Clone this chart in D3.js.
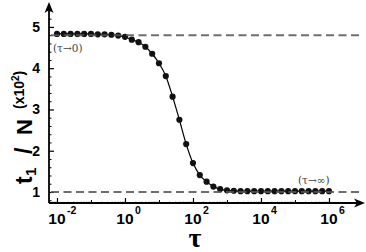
<!DOCTYPE html>
<html>
<head>
<meta charset="utf-8">
<script src="https://cdn.jsdelivr.net/npm/d3@7"></script>
<style>
  html, body { margin: 0; padding: 0; background: #fff; }
  svg { display: block; }
</style>
</head>
<body>
<svg id="chart" width="366" height="252"></svg>
<script>
// log10(tau) of each simulated point, and t1/N (x10^2) at that tau
const logTau = [-2.0, -1.8, -1.6, -1.4, -1.2, -1.0, -0.8, -0.6, -0.4, -0.2,
                 0.0,  0.2,  0.4,  0.6,  0.8,  1.0,  1.2,  1.4,  1.6,  1.8,
                 2.0,  2.2,  2.4,  2.6,  2.8,  3.0,  3.2,  3.4,  3.6,  3.8,
                 4.0,  4.2,  4.4,  4.6,  4.8,  5.0,  5.2,  5.4,  5.6,  5.8, 6.0];
const t1N = [4.83, 4.83, 4.83, 4.83, 4.83, 4.83, 4.82, 4.82, 4.81, 4.79,
             4.76, 4.69, 4.63, 4.52, 4.35, 4.12, 3.81, 3.31, 2.75, 2.16,
             1.70, 1.41, 1.25, 1.13, 1.07, 1.04, 1.03, 1.02, 1.02, 1.02,
             1.02, 1.02, 1.02, 1.02, 1.02, 1.02, 1.02, 1.02, 1.02, 1.02, 1.02];

// limits (dashed) : tau -> 0 and tau -> infinity
const limitValues = [4.8, 1.0];
const limitLabels = ["(\u03C4\u21920)", "(\u03C4\u2192\u221E)"];

const yTicks = [1, 2, 3, 4, 5];
const yMinor = [0.8, 1.2, 1.4, 1.6, 1.8, 2.2, 2.4, 2.6, 2.8, 3.2, 3.4, 3.6, 3.8,
                4.2, 4.4, 4.6, 4.8, 5.2, 5.4];
const xLabelExp = [-2, 0, 2, 4, 6];
const xOddExp = [-1, 1, 3, 5];

const svg = d3.select("#chart");

const x = d3.scaleLog()
    .domain([Math.pow(10, -2.235), Math.pow(10, 7.03)])
    .range([49, 364]);
const y = d3.scaleLinear()
    .domain([0.733, 5.58])
    .range([203, 3]);

const axisX0 = 49, axisY0 = 203;

// --- y axis ticks
svg.append("g")
    .attr("transform", `translate(${axisX0},0)`)
    .call(d3.axisLeft(y).tickValues(yTicks).tickSize(-5).tickPadding(9)
            .tickFormat(d3.format("d")))
    .call(g => g.select(".domain").remove())
    .call(g => g.selectAll("line").attr("stroke", "#000").attr("stroke-width", 1.2))
    .call(g => g.selectAll("text")
        .attr("font-family", "Liberation Sans, Arial, sans-serif")
        .attr("font-weight", "bold")
        .attr("font-size", 14)
        .attr("fill", "#000"));

svg.append("g")
    .attr("transform", `translate(${axisX0},0)`)
    .call(d3.axisLeft(y).tickValues(yMinor).tickSize(-2.5).tickFormat(""))
    .call(g => g.select(".domain").remove())
    .call(g => g.selectAll("line").attr("stroke", "#000").attr("stroke-width", 1));

// --- x axis ticks
const xMinor = [];
for (let e = -3; e <= 6; e++) {
  for (let m = 2; m <= 9; m++) {
    const v = m * Math.pow(10, e);
    if (v > x.domain()[0] && v < 1e6) xMinor.push(v);
  }
}

svg.append("g")
    .attr("transform", `translate(0,${axisY0})`)
    .call(d3.axisBottom(x).tickValues(xLabelExp.map(e => Math.pow(10, e)))
            .tickSize(-5).tickFormat(""))
    .call(g => g.select(".domain").remove())
    .call(g => g.selectAll("line").attr("stroke", "#000").attr("stroke-width", 1.2));

svg.append("g")
    .attr("transform", `translate(0,${axisY0})`)
    .call(d3.axisBottom(x).tickValues(xOddExp.map(e => Math.pow(10, e)))
            .tickSize(-3).tickFormat(""))
    .call(g => g.select(".domain").remove())
    .call(g => g.selectAll("line").attr("stroke", "#000").attr("stroke-width", 1));

svg.append("g")
    .attr("transform", `translate(0,${axisY0})`)
    .call(d3.axisBottom(x).tickValues(xMinor).tickSize(-1.5).tickFormat(""))
    .call(g => g.select(".domain").remove())
    .call(g => g.selectAll("line").attr("stroke", "#444").attr("stroke-width", 0.6));

// x tick labels 10^n
const xLab = svg.append("g")
    .attr("font-family", "Liberation Sans, Arial, sans-serif")
    .attr("font-weight", "bold")
    .attr("fill", "#000");
xLabelExp.forEach(e => {
  const cx = x(Math.pow(10, e));
  xLab.append("text")
      .attr("x", cx)
      .attr("y", 224)
      .attr("text-anchor", "middle")
      .attr("font-size", 15.5)
      .text("10");
  xLab.append("text")
      .attr("x", cx + 10)
      .attr("y", 214)
      .attr("font-size", 10.5)
      .text(e);
});

// --- axis lines with arrows
svg.append("line")
    .attr("x1", axisX0).attr("y1", axisY0)
    .attr("x2", axisX0).attr("y2", 8)
    .attr("stroke", "#000").attr("stroke-width", 1.8);
svg.append("line")
    .attr("x1", axisX0).attr("y1", axisY0)
    .attr("x2", 358).attr("y2", axisY0)
    .attr("stroke", "#000").attr("stroke-width", 1.8);
svg.append("path")
    .attr("d", `M${axisX0},2 L${axisX0 - 4.5},13 L${axisX0},10 L${axisX0 + 4.5},13 Z`)
    .attr("fill", "#000");
svg.append("path")
    .attr("d", `M365,${axisY0} L354,${axisY0 - 4.5} L357,${axisY0} L354,${axisY0 + 4.5} Z`)
    .attr("fill", "#000");

// --- data curve
const pts = logTau.map((l, i) => ({tau: Math.pow(10, l), v: t1N[i]}));

svg.append("path")
    .datum(pts)
    .attr("fill", "none")
    .attr("stroke", "#000")
    .attr("stroke-width", 1.2)
    .attr("d", d3.line().x(d => x(d.tau)).y(d => y(d.v)).curve(d3.curveMonotoneX));

svg.append("g")
    .selectAll("circle")
    .data(pts)
    .join("circle")
    .attr("cx", d => x(d.tau))
    .attr("cy", d => y(d.v))
    .attr("r", 3.1)
    .attr("fill", "#111");

// --- dashed limits
svg.append("g")
    .selectAll("line")
    .data(limitValues)
    .join("line")
    .attr("x1", axisX0 + 2)
    .attr("x2", x(Math.pow(10, 6.9)))
    .attr("y1", d => y(d))
    .attr("y2", d => y(d))
    .attr("stroke", "#555")
    .attr("stroke-width", 2)
    .attr("stroke-opacity", 0.85)
    .attr("stroke-dasharray", "8,4.5");

// limit annotations
const ann = svg.append("g")
    .attr("font-family", "DejaVu Serif, Liberation Serif, serif")
    .attr("font-size", 10.5)
    .attr("fill", "#444");
ann.append("text").attr("x", 53).attr("y", 52).text(limitLabels[0]);
ann.append("text").attr("x", 298).attr("y", 184).text(limitLabels[1]);

// --- axis titles
svg.append("text")
    .attr("x", 195)
    .attr("y", 247)
    .attr("text-anchor", "middle")
    .attr("font-family", "Liberation Serif, Times New Roman, serif")
    .attr("font-weight", "bold")
    .attr("font-size", 28)
    .attr("fill", "#000")
    .text("\u03C4");

// rotated y title: positions along the text direction (0 = bottom at y 184)
const yTitle = svg.append("g")
    .attr("transform", "translate(32,184) rotate(-90)")
    .attr("font-family", "Liberation Sans, Arial, sans-serif")
    .attr("font-weight", "bold")
    .attr("fill", "#000");
yTitle.append("text").attr("x", 0).attr("font-size", 23).text("t");
yTitle.append("text").attr("x", 8).attr("y", 4).attr("font-size", 15).text("1");
yTitle.append("text").attr("x", 30).attr("font-size", 23).text("/");
yTitle.append("text").attr("x", 49).attr("font-size", 22).text("N");
const sub = yTitle.append("text").attr("x", 75).attr("y", -8).attr("font-size", 14);
sub.append("tspan").text("(x10");
sub.append("tspan").attr("font-size", 10).attr("dy", -5).text("2");
sub.append("tspan").attr("dy", 5).text(")");
</script>
</body>
</html>
